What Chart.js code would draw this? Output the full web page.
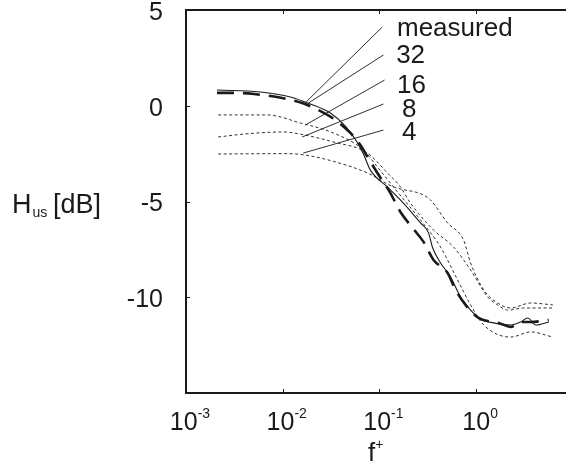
<!DOCTYPE html>
<html>
<head>
<meta charset="utf-8">
<script src="https://cdn.jsdelivr.net/npm/chart.js@4.4.0/dist/chart.umd.min.js"></script>
<style>
  html, body { margin: 0; padding: 0; background: #fff; }
</style>
</head>
<body>
<canvas id="chart" width="566" height="465"></canvas>
<script>
// frequency (f+) and level (dB)
var fMeasured = [0.00209, 0.00585, 0.0120, 0.0193, 0.0311, 0.0444, 0.0578, 0.0683, 0.0807, 0.121, 0.177, 0.266, 0.322, 0.354, 0.429, 0.544, 0.691, 0.877, 1.11, 1.52, 2.28, 2.89, 3.42, 4.14, 5.64];
var hMeasured = [0.82, 0.72, 0.46, 0.09, -0.38, -1.06, -1.84, -2.52, -3.36, -4.24, -5.08, -6.12, -6.64, -7.40, -8.21, -8.94, -9.99, -10.67, -11.15, -11.34, -11.45, -11.29, -11.08, -11.45, -11.29];

var f32 = [0.00209, 0.00322, 0.00507, 0.00988, 0.0159, 0.0233, 0.0350, 0.0500, 0.0636, 0.0733, 0.0953, 0.130, 0.165, 0.220, 0.286, 0.363, 0.507, 0.614, 0.778, 1.06, 1.71, 2.28, 2.89, 3.67, 5.64];
var h32 = [0.67, 0.67, 0.61, 0.40, 0.14, -0.22, -0.74, -1.42, -2.05, -2.57, -3.51, -4.56, -5.55, -6.38, -7.11, -8.05, -8.73, -9.62, -10.40, -11.08, -11.34, -11.55, -11.29, -11.29, -11.19];

var f16 = [0.00215, 0.00691, 0.0152, 0.0333, 0.0683, 0.0953, 0.154, 0.266, 0.429, 0.643, 0.877, 1.20, 2.28, 3.67, 6.21];
var h16 = [-0.48, -0.48, -0.90, -1.42, -2.31, -3.20, -4.50, -5.97, -7.38, -9.10, -10.40, -11.45, -12.08, -11.81, -12.08];

var f8 = [0.00215, 0.00460, 0.0101, 0.0152, 0.0333, 0.0751, 0.121, 0.165, 0.209, 0.363, 0.585, 0.877, 1.32, 1.67, 2.12, 3.11, 6.21];
var h8 = [-1.63, -1.45, -1.37, -1.48, -1.89, -2.47, -3.51, -4.24, -5.08, -6.49, -7.38, -8.58, -9.99, -10.40, -10.67, -10.56, -10.56];

var f4 = [0.00215, 0.0101, 0.0152, 0.0333, 0.0751, 0.140, 0.286, 0.337, 0.507, 0.741, 0.877, 1.20, 1.67, 2.28, 3.67, 6.21];
var h4 = [-2.52, -2.50, -2.54, -2.90, -3.51, -4.24, -4.66, -4.92, -6.12, -7.01, -8.21, -9.62, -10.30, -10.56, -10.30, -10.40];

// curve labels and leader lines (label end -> curve end)
var curveLabels = ['measured', '32', '16', '8', '4'];
var labelF = [0.152, 0.149, 0.152, 0.171, 0.171];
var labelH = [3.64, 2.23, 0.67, -0.59, -1.79];
var leadF1 = [0.107, 0.110, 0.113, 0.110, 0.110];
var leadH1 = [4.11, 2.65, 1.34, 0.09, -1.27];
var leadF2 = [0.0175, 0.0184, 0.0171, 0.0159, 0.0163];
var leadH2 = [0.20, 0.14, -1.01, -1.63, -2.47];

// axes
var xTicks = [0.001, 0.01, 0.1, 1];
var xTickExp = ['-3', '-2', '-1', '0'];
var yTicks = [5, 0, -5, -10];
var xMin = 0.001, xMax = 8.5;
var yMin = -15, yMax = 5;

var ink = '#1a1a1a';
var FONT = '"Liberation Sans", Arial, sans-serif';

function pts(fs, hs) {
    return fs.map((f, i) => ({ x: f, y: hs[i] }));
}

var datasets = [
    { data: pts(fMeasured, hMeasured), borderColor: ink, borderWidth: 1.1 },
    { data: pts(f32, h32), borderColor: ink, borderWidth: 2.6, borderDash: [17, 9] },
    { data: pts(f16, h16), borderColor: '#333', borderWidth: 1, borderDash: [3, 2.5] },
    { data: pts(f8, h8), borderColor: '#333', borderWidth: 1, borderDash: [3, 2.5] },
    { data: pts(f4, h4), borderColor: '#333', borderWidth: 1, borderDash: [3, 2.5] }
];
datasets.forEach(d => { d.cubicInterpolationMode = 'monotone'; d.pointRadius = 0; d.fill = false; });

// leader lines
leadF1.forEach((f, i) => {
    datasets.push({
        data: [{ x: f, y: leadH1[i] }, { x: leadF2[i], y: leadH2[i] }],
        borderColor: ink, borderWidth: 0.9, pointRadius: 0, fill: false, tension: 0
    });
});

// axes, tick marks and all text
var decoPlugin = {
    id: 'deco',
    afterDraw(chart) {
        const ctx = chart.ctx, a = chart.chartArea;
        const xs = chart.scales.x, ys = chart.scales.y;
        ctx.save();
        ctx.strokeStyle = ink;
        ctx.fillStyle = ink;

        // frame: left, bottom, top
        ctx.lineWidth = 2;
        ctx.beginPath();
        ctx.moveTo(a.right, a.top); ctx.lineTo(a.left, a.top);
        ctx.lineTo(a.left, a.bottom); ctx.lineTo(a.right, a.bottom);
        ctx.stroke();

        // inward tick marks
        ctx.lineWidth = 1;
        ctx.beginPath();
        xTicks.forEach(v => {
            const px = Math.round(xs.getPixelForValue(v)) + 0.5;
            ctx.moveTo(px, a.bottom); ctx.lineTo(px, a.bottom - 4);
            ctx.moveTo(px, a.top); ctx.lineTo(px, a.top + 4);
        });
        yTicks.forEach(v => {
            const py = Math.round(ys.getPixelForValue(v)) + 0.5;
            ctx.moveTo(a.left, py); ctx.lineTo(a.left + 4, py);
        });
        ctx.stroke();

        // y tick labels
        ctx.font = '25px ' + FONT;
        ctx.textAlign = 'right';
        ctx.textBaseline = 'middle';
        yTicks.forEach(v => {
            ctx.fillText(String(v), a.left - 23, ys.getPixelForValue(v) + 3);
        });

        // x tick labels 10^n
        ctx.textAlign = 'left';
        ctx.textBaseline = 'alphabetic';
        xTicks.forEach((v, i) => {
            const px = xs.getPixelForValue(v);
            ctx.font = '25px ' + FONT;
            const w1 = ctx.measureText('10').width;
            ctx.font = '14px ' + FONT;
            const w2 = ctx.measureText(xTickExp[i]).width;
            const x0 = px + 4 - (w1 + w2) / 2;
            ctx.font = '25px ' + FONT;
            ctx.fillText('10', x0, a.bottom + 37);
            ctx.font = '14px ' + FONT;
            ctx.fillText(xTickExp[i], x0 + w1, a.bottom + 25);
        });

        // x title f+
        ctx.font = '26px ' + FONT;
        ctx.fillText('f', 368, a.bottom + 68);
        const wf = ctx.measureText('f').width;
        ctx.font = '14px ' + FONT;
        ctx.fillText('+', 368 + wf, a.bottom + 56);

        // y title H_us [dB]
        ctx.font = '27px ' + FONT;
        ctx.fillText('H', 12, 213);
        const wh = ctx.measureText('H').width;
        ctx.font = '14px ' + FONT;
        ctx.fillText('us', 12 + wh + 1, 217);
        ctx.font = '27px ' + FONT;
        ctx.fillText('[dB]', 53, 213);

        // curve labels
        ctx.font = '26px ' + FONT;
        curveLabels.forEach((t, i) => {
            ctx.fillText(t, xs.getPixelForValue(labelF[i]), ys.getPixelForValue(labelH[i]));
        });
        ctx.restore();
    }
};

new Chart(document.getElementById('chart').getContext('2d'), {
    type: 'line',
    data: { datasets: datasets },
    options: {
        responsive: false,
        animation: false,
        devicePixelRatio: 1,
        layout: { padding: { left: 186, top: 10, right: 0, bottom: 72 } },
        plugins: { legend: { display: false }, tooltip: { enabled: false } },
        scales: {
            x: { type: 'logarithmic', min: xMin, max: xMax, display: false },
            y: { type: 'linear', min: yMin, max: yMax, display: false }
        }
    },
    plugins: [decoPlugin]
});
</script>
</body>
</html>
